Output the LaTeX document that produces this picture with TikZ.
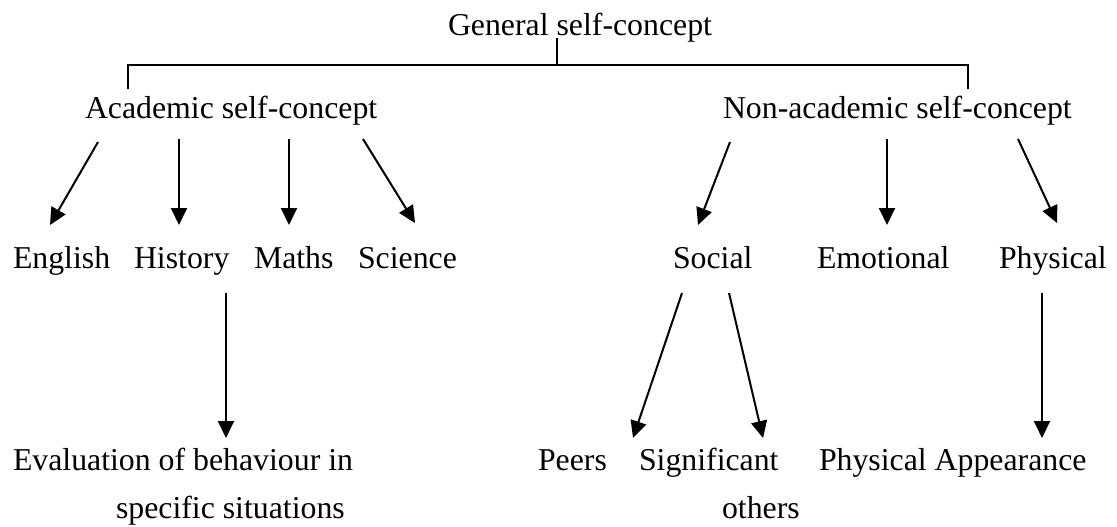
\documentclass[tikz,border=0pt]{standalone}
\usepackage{fontspec}
\setmainfont{Liberation Serif}
\usetikzlibrary{arrows.meta,calc}

\begin{document}
\begin{tikzpicture}[
  x=0.5pt, y=-0.5pt,
  every node/.style={inner sep=0pt, outer sep=0pt, anchor=base west,
    text height=11pt, text depth=3.5pt,
    font=\fontsize{15.9}{19}\selectfont},
  brk/.style={line width=0.65pt},
  arr/.style={line width=1pt, -{Triangle[length=8.5pt,width=8pt]}}
]
\useasboundingbox (0,0) rectangle (1117,526);

% top level
\node (gen) at (448,35) {General self-concept};

% second level
\node (acad)  at (85,118)  {Academic self-concept};
\node (nonac) at (723,118) {Non-academic self-concept};

% academic domains
\node (eng)   at (13,268)  {English};
\node (hist)  at (134,268) {History};
\node (maths) at (254,268) {Maths};
\node (sci)   at (358,268) {Science};

% non-academic domains
\node (soc)  at (673,268) {Social};
\node (emo)  at (817,268) {Emotional};
\node (phys) at (999,268) {Physical};

% lowest level
\node (eval)    at (13,470)  {Evaluation of behaviour in};
\node (evalb)   at (116,518) {specific situations};
\node (peers)   at (538,470) {Peers};
\node (sig)     at (639,470) {Significant};
\node (others)  at (722,518) {others};
\node (physapp) at (819,470) {Physical Appearance};

% bracket joining the general self-concept to its two branches
\draw[brk] ($(gen.base west)+(109,3)$) -- ++(0,27) coordinate (mid);
\draw[brk] ($(acad.north west)+(43,-7)$) |- (mid) -| ($(nonac.north west)+(245,-7)$);

% academic arrows
\draw[arr] ($(acad.south west)+(13,17)$)  -- ($(eng.north west)+(37,-21)$);
\draw[arr] ($(acad.south west)+(94,14)$)  -- ($(hist.north west)+(45,-21)$);
\draw[arr] ($(acad.south west)+(204,14)$) -- ($(maths.north west)+(35,-21)$);
\draw[arr] ($(acad.south west)+(278,14)$) -- ($(sci.north west)+(57,-23)$);

% non-academic arrows
\draw[arr] ($(nonac.south west)+(7,17)$)   -- ($(soc.north west)+(25,-21)$);
\draw[arr] ($(nonac.south west)+(164,14)$) -- ($(emo.north west)+(70,-21)$);
\draw[arr] ($(nonac.south west)+(295,14)$) -- ($(phys.north west)+(58,-23)$);

% lower arrows
\draw[arr] ($(hist.south west)+(92,18)$) -- ($(eval.north west)+(213,-10)$);
\draw[arr] ($(soc.south west)+(9,18)$)   -- ($(peers.north west)+(95,-10)$);
\draw[arr] ($(soc.south west)+(56,18)$)  -- ($(sig.north west)+(124,-10)$);
\draw[arr] ($(phys.south west)+(43,18)$) -- ($(physapp.north west)+(223,-10)$);
\end{tikzpicture}
\end{document}
